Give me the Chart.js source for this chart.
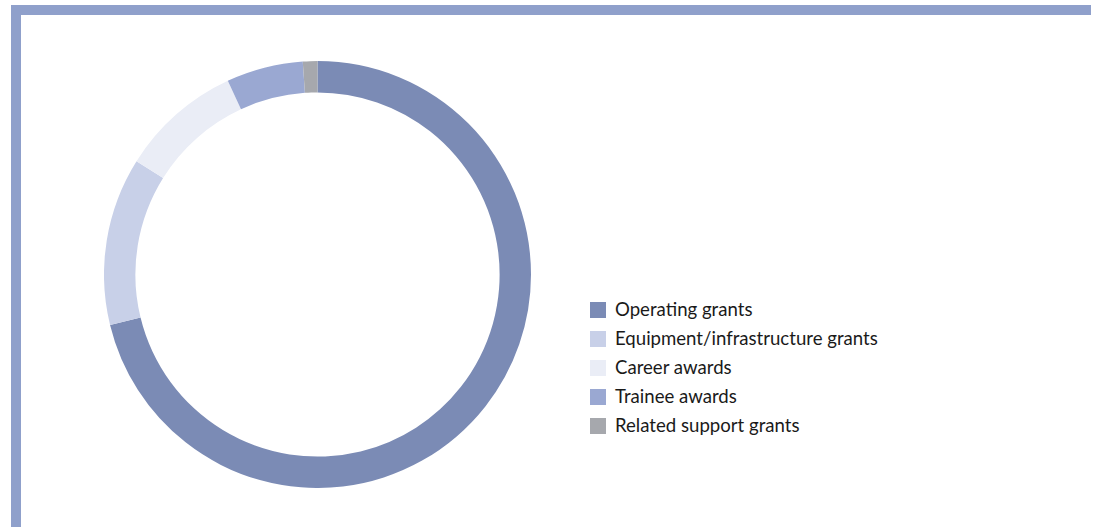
<!DOCTYPE html>
<html>
<head>
<meta charset="utf-8">
<script src="https://cdn.jsdelivr.net/npm/chart.js@4/dist/chart.umd.min.js"></script>
<style>
  html, body { margin: 0; padding: 0; background: #fff; width: 1096px; height: 527px; overflow: hidden; }
  .frame {
    position: absolute; left: 11px; top: 5px; width: 1070px; height: 530px;
    border-top: 10px solid #8fa0cb; border-left: 10px solid #8fa0cb;
  }
  .chart-box { position: absolute; left: 104px; top: 61px; width: 427px; height: 427px; }
  #legend { position: absolute; left: 590px; top: 295px; margin: 0; padding: 0; list-style: none;
    font-family: Lato, "Open Sans", sans-serif; font-size: 18.6px; color: #1a1a1a; }
  #legend li { height: 29px; line-height: 29px; display: flex; align-items: center; }
  #legend .swatch { width: 16px; height: 16px; margin-right: 9px; flex: none; }
</style>
</head>
<body>
<div class="frame"></div>
<div class="chart-box"><canvas id="chart"></canvas></div>
<ul id="legend"></ul>
<script>
const categories = [
  'Operating grants',
  'Equipment/infrastructure grants',
  'Career awards',
  'Trainee awards',
  'Related support grants'
];
// share of funding, percent
const shares = [71.2, 12.7, 9.2, 5.8, 1.1];
const colors = ['#7b8bb5', '#c8d0e8', '#eaedf6', '#9aa8d2', '#a6a8ad'];

new Chart(document.getElementById('chart'), {
  type: 'doughnut',
  data: {
    labels: categories,
    datasets: [{
      data: shares,
      backgroundColor: colors,
      borderWidth: 0
    }]
  },
  options: {
    responsive: true,
    maintainAspectRatio: false,
    animation: false,
    cutout: '85.3%',
    layout: { padding: 0 },
    plugins: {
      legend: { display: false },
      tooltip: { enabled: false }
    }
  }
});

// legend list beside the ring
const legend = document.getElementById('legend');
categories.forEach((name, i) => {
  const li = document.createElement('li');
  const sw = document.createElement('span');
  sw.className = 'swatch';
  sw.style.background = colors[i];
  li.appendChild(sw);
  li.appendChild(document.createTextNode(name));
  legend.appendChild(li);
});
</script>
</body>
</html>
